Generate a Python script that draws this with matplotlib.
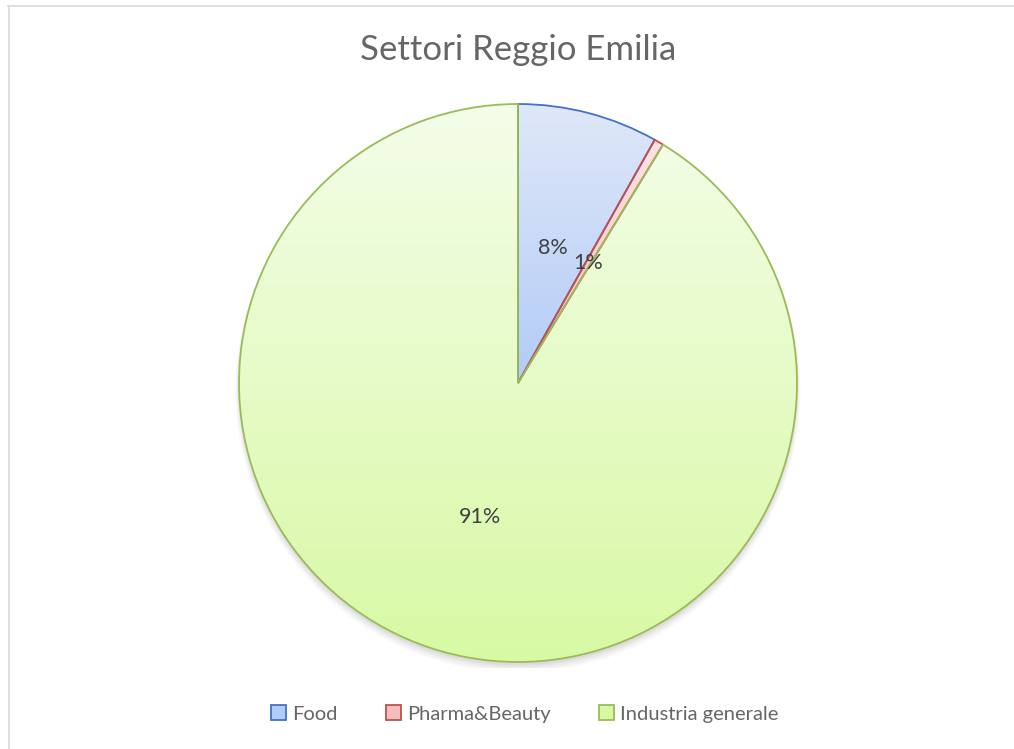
import numpy as np
import matplotlib
matplotlib.use('Agg')
import matplotlib.pyplot as plt
from matplotlib.colors import LinearSegmentedColormap
from matplotlib.patches import Circle, Patch
from matplotlib.lines import Line2D

plt.rcParams['font.family'] = ['Lato', 'DejaVu Sans']

# data
sectors = ['Food', 'Pharma&Beauty', 'Industria generale']
shares = [8.15, 0.55, 91.3]

edge_colors = ['#4472C4', '#C0504D', '#9BBB59']
grad_top = ['#dfe8f9', '#fde3e3', '#f4fde9']
grad_bottom = ['#b3cbf7', '#f7bdbc', '#d8f9a4']

W, H = 1014, 749
fig = plt.figure(figsize=(W / 100, H / 100), dpi=100)
fig.patch.set_facecolor('white')

# chart area border (top and left visible)
fig.add_artist(Line2D([8 / W, 1], [1 - 5.5 / H, 1 - 5.5 / H], color='#d9d9d9', lw=1.2))
fig.add_artist(Line2D([8.5 / W, 8.5 / W], [0, 1 - 5.5 / H], color='#d9d9d9', lw=1.2))

cx, cy, r = 518, 383, 279
lim = 1.02
ra = r * lim
ax = fig.add_axes([(cx - ra) / W, (H - cy - ra) / H, 2 * ra / W, 2 * ra / H])
ax.axis('off')

# soft shadow under the pie
for i, a in enumerate([0.05, 0.06, 0.08, 0.10]):
    ax.add_patch(Circle((0, -0.012 - 0.004 * (3 - i)), 1.0 + 0.004 * (3 - i),
                        color='#7f7f7f', alpha=a, lw=0, zorder=0))
ax.add_patch(Circle((0, 0), 1.0, color='white', lw=0, zorder=0.5))

wedges, texts, autotexts = ax.pie(
    shares, startangle=90, counterclock=False, radius=1.0,
    autopct='%.0f%%', pctdistance=0.5,
    wedgeprops=dict(linewidth=1.3),
    textprops=dict(color='#404040', fontsize=15.5))

for w, ec, top, bot in zip(wedges, edge_colors, grad_top, grad_bottom):
    w.set_facecolor('none')
    w.set_edgecolor(ec)
    w.set_zorder(2)
    ext = w.get_path().transformed(w.get_patch_transform()).get_extents()
    cmap = LinearSegmentedColormap.from_list('g', [bot, top])
    grad = np.linspace(0, 1, 256).reshape(-1, 1)
    im = ax.imshow(grad, cmap=cmap, origin='lower', aspect='auto',
                   extent=[ext.x0, ext.x1, ext.y0, ext.y1], zorder=1)
    im.set_clip_path(w)

for t in autotexts:
    t.set_zorder(3)

ax.set_xlim(-lim, lim)
ax.set_ylim(-lim, lim)

fig.text(cx / W, 1 - 50 / H, 'Settori Reggio Emilia', ha='center', va='center',
         fontsize=25, color='#666666')

handles = [Patch(facecolor=t, edgecolor=e, linewidth=1.3) for t, e in zip(grad_bottom, edge_colors)]
fig.legend(handles, sectors, loc='center', bbox_to_anchor=(525 / W, 1 - 714 / H),
           ncol=3, frameon=False, fontsize=14.5, handlelength=0.75, handleheight=0.75,
           handletextpad=0.3, columnspacing=2.4, labelcolor='#666666')

fig.savefig('out.png', dpi=100)
